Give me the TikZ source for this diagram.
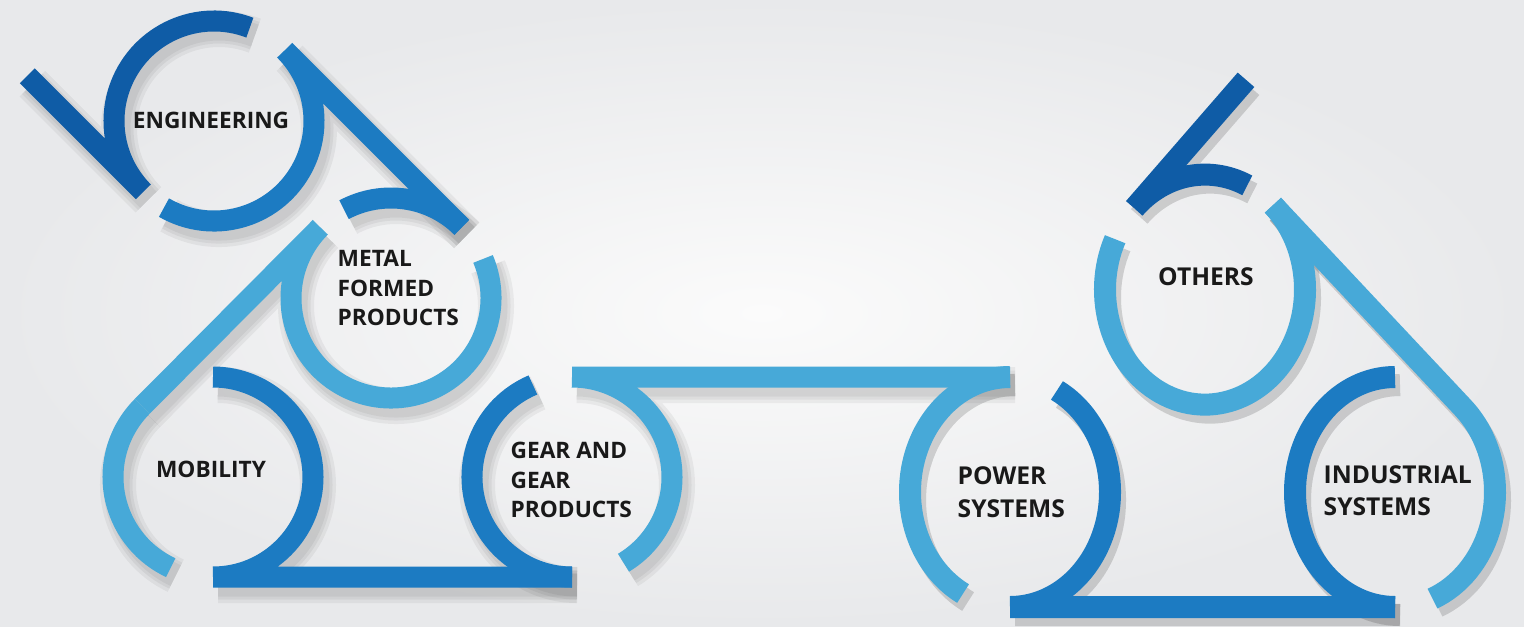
\documentclass[tikz,border=0pt]{standalone}
\usepackage{fontspec}
\setmainfont{Open Sans}
\definecolor{cdark}{HTML}{0F5CA6}
\definecolor{cmed}{HTML}{1C7BC2}
\definecolor{clight}{HTML}{47A9D8}
\definecolor{bgout}{HTML}{E8E9EB}
\definecolor{bgin}{HTML}{FBFBFB}
% arc / point on circle (ry = vertical radius)
\newcommand{\parc}[5]{({#1+100*cos(#4)},{#2+#3*sin(#4)}) arc[start angle=#4, end angle=#5, x radius=100, y radius=#3]}
\newcommand{\ppt}[4]{({#1+100*cos(#4)},{#2+#3*sin(#4)})}
% all pieces; #1 dark, #2 medium, #3 light options
\newcommand{\allpieces}[3]{%
  % left group (circles, r=100)
  \draw[#1] \parc{214}{505}{100}{69}{225} \ppt{214}{505}{100}{225} -- (27.3,550.3);
  \draw[#2] \parc{214}{505}{100}{240}{405} \ppt{214}{505}{100}{45} -- \ppt{391}{328}{100}{45};
  \draw[#2] \parc{391}{328}{100}{118}{45};
  \draw[#3] \parc{391}{328}{100}{23}{-225} \ppt{391}{328}{100}{135} -- \ppt{213}{149}{100}{135};
  \draw[#3] \parc{213}{149}{100}{135}{245};
  \draw[#2] \parc{213}{149}{100}{90}{-90} (213,49) -- (572,49);
  \draw[#2] \parc{572}{149}{100}{113}{270};
  \draw[#3] \parc{572}{149}{100}{90}{-59} (572,249) -- (1010,249);
  % right group (vertically stretched)
  \draw[#3,line width=0.22cm] \parc{1010}{134}{115}{90}{242};
  \draw[#2,line width=0.22cm] \parc{1010}{134}{115}{62}{-90} (1010,19) -- (1395,19);
  \draw[#2,line width=0.22cm] \parc{1395}{134}{115}{90}{270};
  \draw[#3,line width=0.22cm] \parc{1395}{134}{115}{47.2}{-68} \ppt{1395}{134}{115}{47.2} -- \ppt{1205}{336.4}{115}{47.2};
  \draw[#3,line width=0.22cm] \parc{1205}{336.4}{115}{154}{407.2};
  \draw[#1,line width=0.22cm] \parc{1205}{336.4}{115}{65}{135} \ppt{1205}{336.4}{115}{135} -- (1246,546.2);
}
\begin{document}
\begin{tikzpicture}[x=0.01cm,y=0.01cm,
  band/.style={draw=#1,line width=0.21cm,line cap=butt},
  shd/.style={draw=black,opacity=0.05,line width=#1,line cap=butt,transform canvas={xshift=0.05cm,yshift=-0.08cm}},
  lbl/.style={font=\bfseries\fontsize{6.45}{8.5}\selectfont,text=black!90,inner sep=0pt,align=left}]
\useasboundingbox (0,0) rectangle (1524,626);
\shade[inner color=bgin,outer color=bgout] (0,0) rectangle (1524,626);
% shadows
\allpieces{shd=0.36cm}{shd=0.36cm}{shd=0.36cm}
\allpieces{shd=0.29cm}{shd=0.29cm}{shd=0.29cm}
\allpieces{shd=0.23cm}{shd=0.23cm}{shd=0.23cm}
% bands
\allpieces{band=cdark}{band=cmed}{band=clight}
% labels
\node[lbl] (eng) at (211,506) {ENGINEERING};
\node[lbl,anchor=west] (metal) at (337,338) {METAL\\FORMED\\PRODUCTS};
\node[lbl] (mob) at (211,157) {MOBILITY};
\node[lbl,anchor=west,font=\bfseries\fontsize{6.45}{8.4}\selectfont] (gear) at (510,146) {GEAR AND\\GEAR\\PRODUCTS};
\node[lbl,anchor=west,font=\bfseries\fontsize{7}{9.4}\selectfont] (power) at (957,134) {POWER\\SYSTEMS};
\node[lbl,anchor=west,font=\bfseries\fontsize{7}{9}\selectfont] (ind) at (1323,135) {INDUSTRIAL\\SYSTEMS};
\node[lbl,font=\bfseries\fontsize{7}{9}\selectfont] (oth) at (1206,349) {OTHERS};
\end{tikzpicture}
\end{document}
